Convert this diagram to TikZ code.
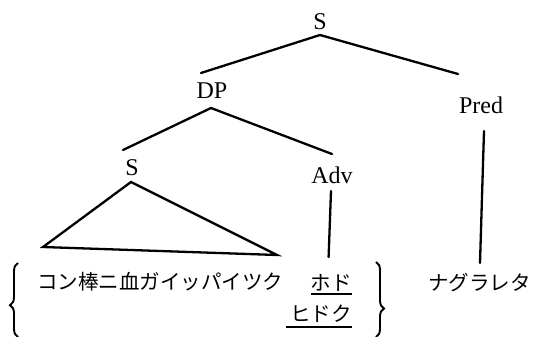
\documentclass[tikz,border=0pt]{standalone}
\usepackage{fontspec}
\setmainfont{Liberation Serif}
\newfontfamily\jp{Noto Sans CJK JP}
\usetikzlibrary{calc,decorations.pathreplacing}
\begin{document}
\begin{tikzpicture}[x=1pt,y=-1pt,
  cat/.style={font=\fontsize{24}{26}\selectfont, inner sep=0pt},
  word/.style={font=\jp\fontsize{20.5}{24}\selectfont, inner sep=0pt, anchor=base west},
  branch/.style={line width=2.3pt, line cap=round, line join=miter},
  ul/.style={line width=1.6pt},
  curly/.style={line width=1.9pt, decorate}]
\useasboundingbox (0,0) rectangle (533,337);

% category labels
\node[cat] (S0)   at (320,22)  {S};
\node[cat] (DP)   at (212,91)  {DP};
\node[cat] (Pred) at (481,105) {Pred};
\node[cat] (S1)   at (132,168) {S};
\node[cat] (Adv)  at (332,175) {Adv};

% terminal strings
\node[word] (w1) at (37,289) {コン棒ニ血ガイッパイツク};
\node[word, anchor=base east] (hodo)   at (352,290) {ホド};
\node[word, anchor=base east] (hidoku) at (352,321) {ヒドク};
\node[word] (nag) at (428,290) {ナグラレタ};

% branch end points
\coordinate (S0foot)   at ($(S0)+(0,13)$);
\coordinate (DPtop)    at ($(DP)+(-11,-18)$);
\coordinate (Predtop)  at ($(Pred)+(-23,-31)$);
\coordinate (DPfoot)   at ($(DP)+(-1,17)$);
\coordinate (S1top)    at ($(S1)+(-9,-18)$);
\coordinate (Advtop)   at ($(Adv)+(0,-21)$);
\coordinate (S1foot)   at ($(S1)+(-1,14)$);
\coordinate (triL)     at ($(w1.base west)+(6,-42)$);
\coordinate (triR)     at ($(w1.base west)+(240,-34)$);
\coordinate (Advfoot)  at ($(Adv)+(-1,16)$);
\coordinate (Advend)   at ($(hodo.base west)+(18,-33)$);
\coordinate (Predfoot) at ($(Pred)+(3,26)$);
\coordinate (Predend)  at ($(nag.base west)+(52,-27)$);

% tree
\draw[branch] (DPtop) -- (S0foot) -- (Predtop);
\draw[branch] (S1top) -- (DPfoot) -- (Advtop);
\draw[branch] (S1foot) -- (triL) -- (triR) -- cycle;
\draw[branch] (Advfoot) -- (Advend);
\draw[branch] (Predfoot) -- (Predend);

% underlines
\draw[ul] ($(hodo.base west)+(0,4)$) -- ($(hodo.base east)+(0,4)$);
\draw[ul] ($(hidoku.base west)+(-4,6)$) -- ($(hidoku.base east)+(0,6)$);

% braces
\coordinate (bLlo) at (18,337);
\coordinate (bLhi) at (18,263);
\coordinate (bRhi) at (376,262);
\coordinate (bRlo) at (376,337);
\draw[curly, decoration={brace, amplitude=8pt, aspect=0.43}] (bLlo) -- (bLhi);
\draw[curly, decoration={brace, amplitude=8pt, aspect=0.62}] (bRhi) -- (bRlo);
\end{tikzpicture}
\end{document}
